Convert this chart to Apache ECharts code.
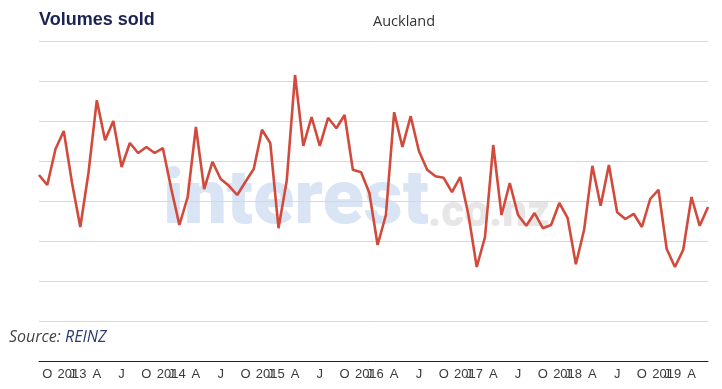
<!DOCTYPE html>
<html>
<head>
<meta charset="utf-8">
<script src="https://cdn.jsdelivr.net/npm/echarts@6/dist/echarts.min.js"></script>
<style>html,body{margin:0;padding:0;background:#fff;}#c{width:722px;height:389px;}</style>
</head>
<body>
<div id="c"></div>
<script>
var months = [
 '2012-09','2012-10','2012-11','2012-12',
 '2013-01','2013-02','2013-03','2013-04','2013-05','2013-06','2013-07','2013-08','2013-09','2013-10','2013-11','2013-12',
 '2014-01','2014-02','2014-03','2014-04','2014-05','2014-06','2014-07','2014-08','2014-09','2014-10','2014-11','2014-12',
 '2015-01','2015-02','2015-03','2015-04','2015-05','2015-06','2015-07','2015-08','2015-09','2015-10','2015-11','2015-12',
 '2016-01','2016-02','2016-03','2016-04','2016-05','2016-06','2016-07','2016-08','2016-09','2016-10','2016-11','2016-12',
 '2017-01','2017-02','2017-03','2017-04','2017-05','2017-06','2017-07','2017-08','2017-09','2017-10','2017-11','2017-12',
 '2018-01','2018-02','2018-03','2018-04','2018-05','2018-06','2018-07','2018-08','2018-09','2018-10','2018-11','2018-12',
 '2019-01','2019-02','2019-03','2019-04','2019-05','2019-06'
];
var volumesSold = [
 2325,2200,2650,2875,
 2225,1675,2360,3260,2760,3000,2425,2725,2600,2675,2600,2660,
 2160,1700,2050,2925,2150,2490,2275,2190,2075,2240,2400,2890,
 2725,1660,2260,3575,2690,3050,2690,3040,2910,3075,2390,2360,
 2100,1450,1825,3110,2675,3060,2625,2390,2310,2290,2110,2300,
 1825,1175,1550,2700,1825,2225,1825,1690,1850,1660,1700,1975,
 1790,1210,1640,2440,1940,2450,1860,1775,1840,1675,2025,2140,
 1400,1175,1390,2050,1690,1925
];
var quarterLetters = {'01':'J','04':'A','07':'J','10':'O'};
var yearLabelMonth = '01';
var titleText = 'Volumes sold';
var subtitleText = 'Auckland';
var sourceLabel = 'Source: ';
var sourceName = 'REINZ';

var chart = echarts.init(document.getElementById('c'), null, {renderer:'canvas'});
var labelFont = {fontFamily:'Liberation Sans, Arial, sans-serif', fontSize:13, color:'#3a3a3a'};
chart.setOption({
  animation:false,
  backgroundColor:'#fff',
  grid:{left:39, right:14, top:41, bottom:28, containLabel:false},
  xAxis:[{
    type:'category', data:months, boundaryGap:false, position:'bottom',
    axisLine:{show:true, lineStyle:{color:'#222', width:1}},
    axisTick:{show:false},
    splitLine:{show:false},
    axisLabel:Object.assign({
      margin:7,
      hideOverlap:false,
      interval:function(i, v){ return quarterLetters.hasOwnProperty(v.slice(5)); },
      formatter:function(v){ return quarterLetters[v.slice(5)] || ''; }
    }, labelFont)
  },{
    type:'category', data:months, boundaryGap:false, position:'bottom', offset:0,
    axisLine:{show:false}, axisTick:{show:false}, splitLine:{show:false},
    axisLabel:Object.assign({
      margin:7,
      hideOverlap:false,
      interval:function(i, v){ return v.slice(5) === yearLabelMonth; },
      formatter:function(v){ return v.slice(0,4); }
    }, labelFont)
  }],
  yAxis:{
    type:'value', min:0, max:4000, interval:500,
    axisLine:{show:false}, axisTick:{show:false}, axisLabel:{show:false},
    splitLine:{show:true, lineStyle:{color:'#d8d8d8', width:1}}
  },
  graphic:[
    {type:'text', left:163, top:166, z:-10, silent:true,
     style:{text:'interest', font:'900 76px Roboto, "DejaVu Sans", sans-serif', fill:'#d9e4f5'}},
    {type:'text', left:428, top:193, z:-10, silent:true,
     style:{text:'.co.nz', font:'900 44px Roboto, "DejaVu Sans", sans-serif', fill:'#e6e6e6'}},
    {type:'text', x:39, y:20, z:10,
     style:{text:titleText, font:'bold 18px "Liberation Sans", Arial, sans-serif', fill:'#1c2253', verticalAlign:'middle'}},
    {type:'text', x:373, y:22, z:10,
     style:{text:subtitleText, font:'14.5px "Open Sans", Lato, sans-serif', fill:'#333', verticalAlign:'middle'}},
    {type:'text', x:9, y:337, z:10,
     style:{text:'{a|' + sourceLabel + '}{b|' + sourceName + '}', verticalAlign:'middle',
       rich:{a:{font:'italic 16px "Open Sans", Lato, sans-serif', fill:'#444', color:'#444'},
             b:{font:'italic 16px "Open Sans", Lato, sans-serif', fill:'#2b3a70', color:'#2b3a70'}}}}
  ],
  series:[{
    type:'line', data:volumesSold, xAxisIndex:0, symbol:'none', smooth:false,
    lineStyle:{color:'#d24a3c', width:2.6}, z:5
  }]
});
</script>
</body>
</html>
